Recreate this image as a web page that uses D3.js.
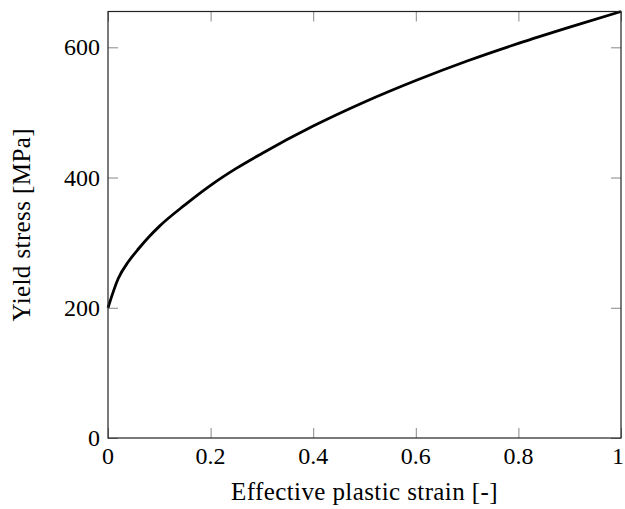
<!DOCTYPE html>
<html lang="en">
<head>
    <meta charset="UTF-8">
    <title>Yield stress</title>
    <style>
    body { margin:0; background:#fff; }
    text { font-family: "Liberation Serif", serif; fill:#000; }
    </style>
</head>
<body>
    <svg id="chart"></svg>
</body>

<script src="https://cdn.jsdelivr.net/npm/d3@7"></script>

<script>

    // values
    var strain = [0, 0.02, 0.04, 0.06, 0.08, 0.1, 0.15, 0.2, 0.25, 0.3, 0.4, 0.5, 0.6, 0.7, 0.8, 0.9, 1.0];
    var stress = [200, 245, 271, 291, 309, 325, 358, 388, 414, 437, 479, 516, 549, 579, 606, 631, 655];
    var xTicks = [0, 0.2, 0.4, 0.6, 0.8, 1];
    var yTicks = [0, 200, 400, 600];

    var svgWidth = 625, svgHeight = 509;
    // plot box (note: "top" is taken by window.top, so use other names)
    var pLeft = 108, pRight = 621, pTop = 11.5, pBottom = 438;
    var tickLen = 10;

    var svg = d3.select('#chart')
        .attr('width', svgWidth)
        .attr('height', svgHeight);

    var xScale = d3.scaleLinear()
        .domain([0, 1])
        .range([pLeft, pRight]);

    var yScale = d3.scaleLinear()
        .domain([0, 655])
        .range([pBottom, pTop]);

    // ticks, inside, mirrored on all four sides
    var tickColor = '#888';
    function tickLines(axis) {
        var g = svg.append('g').call(axis);
        g.select('.domain').remove();
        g.selectAll('line').attr('stroke', tickColor).attr('stroke-width', 1);
        g.selectAll('text').remove();
        return g;
    }

    tickLines(d3.axisTop(xScale).tickValues(xTicks).tickSize(tickLen))
        .attr('transform', 'translate(0,' + pBottom + ')');
    tickLines(d3.axisBottom(xScale).tickValues(xTicks).tickSize(tickLen))
        .attr('transform', 'translate(0,' + pTop + ')');
    tickLines(d3.axisRight(yScale).tickValues(yTicks).tickSize(tickLen))
        .attr('transform', 'translate(' + pLeft + ',0)');
    tickLines(d3.axisLeft(yScale).tickValues(yTicks).tickSize(tickLen))
        .attr('transform', 'translate(' + pRight + ',0)');

    // tick labels
    svg.selectAll('.xlab')
        .data(xTicks)
        .enter()
        .append('text')
        .attr('class', 'xlab')
        .attr('x', function(d, i) { return xScale(d) - (i == xTicks.length - 1 ? 3 : 0); })
        .attr('y', 464)
        .attr('text-anchor', 'middle')
        .style('font-size', '24px')
        .text(function(d) { return d; });

    svg.selectAll('.ylab')
        .data(yTicks)
        .enter()
        .append('text')
        .attr('class', 'ylab')
        .attr('x', pLeft - 8)
        .attr('y', function(d) { return yScale(d) + 8; })
        .attr('text-anchor', 'end')
        .style('font-size', '24px')
        .text(function(d) { return d; });

    // curve
    var line = d3.line()
        .x(function(d, i) { return xScale(strain[i]); })
        .y(function(d) { return yScale(d); })
        .curve(d3.curveMonotoneX);

    svg.append('path')
        .datum(stress)
        .attr('d', line)
        .attr('fill', 'none')
        .attr('stroke', '#000')
        .attr('stroke-width', 2.8)
        .attr('stroke-linejoin', 'round');

    // frame
    svg.append('rect')
        .attr('x', pLeft)
        .attr('y', pTop)
        .attr('width', pRight - pLeft)
        .attr('height', pBottom - pTop)
        .attr('fill', 'none')
        .attr('stroke', '#222')
        .attr('stroke-width', 1.2);

    // axis titles
    svg.append('text')
        .attr('x', (pLeft + pRight) / 2)
        .attr('y', 500)
        .attr('text-anchor', 'middle')
        .style('font-size', '25px')
        .style('letter-spacing', '0.4px')
        .text('Effective plastic strain [-]');

    svg.append('text')
        .attr('transform', 'translate(30,' + ((pTop + pBottom) / 2) + ') rotate(-90)')
        .attr('text-anchor', 'middle')
        .style('font-size', '25px')
        .style('letter-spacing', '0.4px')
        .text('Yield stress [MPa]');

</script>
</html>
